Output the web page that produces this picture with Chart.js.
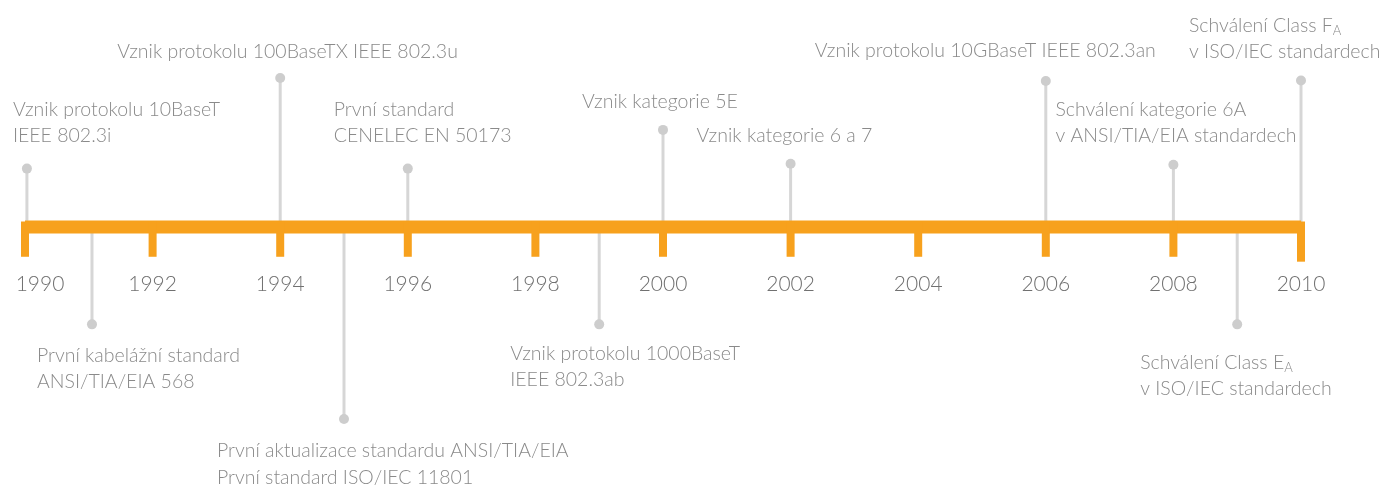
<!DOCTYPE html>
<html>
<head>
<meta charset="utf-8">
<script src="https://cdn.jsdelivr.net/npm/chart.js@4"></script>
<style>
  html, body { margin: 0; padding: 0; background: #fff; }
  #wrap { width: 1379px; height: 492px; }
</style>
</head>
<body>
<div id="wrap"><canvas id="timeline"></canvas></div>
<script>
// axis years (orange ticks + labels)
const axisYears = [1990, 1992, 1994, 1996, 1998, 2000, 2002, 2004, 2006, 2008, 2010];

// events: year, stem height (+ above the bar, - below)
const eventYears = [1990.03, 1994, 1996, 2000, 2002, 2006, 2008, 2010, 1991.05, 1995, 1999, 2009];
const eventHeights = [59.5, 152, 59.5, 99, 64.5, 149, 63.5, 149.5, -99.5, -196, -99.5, -99.5];
const eventLabels = [
  ['Vznik protokolu 10BaseT', 'IEEE 802.3i'],
  ['Vznik protokolu 100BaseTX IEEE 802.3u'],
  ['První standard', 'CENELEC EN 50173'],
  ['Vznik kategorie 5E'],
  ['Vznik kategorie 6 a 7'],
  ['Vznik protokolu 10GBaseT IEEE 802.3an'],
  ['Schválení kategorie 6A', 'v ANSI/TIA/EIA standardech'],
  ['Schválení Class F_A', 'v ISO/IEC standardech'],
  ['První kabelážní standard', 'ANSI/TIA/EIA 568'],
  ['První aktualizace standardu ANSI/TIA/EIA', 'První standard ISO/IEC 11801'],
  ['Vznik protokolu 1000BaseT', 'IEEE 802.3ab'],
  ['Schválení Class E_A', 'v ISO/IEC standardech']
];

// label placement relative to the dot (left edge, first line centre)
const labelDx = [-14, -163, -74, -81, -94, -231, -118, -112, -55, -127, -89, -97];
const labelDy = [-59, -26, -59, -28, -28, -30, -55, -55, 31, 32, 29, 38];

const ORANGE = '#f7a11d';
const STEM = '#d6d6d6';
const DOT = '#cdcdcd';
const FONT = '"Lato", "Open Sans", sans-serif';

const drawLine = (ctx, text, x, y) => {
  const parts = text.split('_');
  ctx.font = '300 19.5px ' + FONT;
  ctx.fillText(parts[0], x, y);
  if (parts[1]) {
    const w = ctx.measureText(parts[0]).width;
    ctx.font = '300 13px ' + FONT;
    ctx.fillText(parts[1], x + w, y + 5);
  }
};

const textPlugin = {
  id: 'timelineText',
  afterDatasetsDraw(chart) {
    const ctx = chart.ctx;
    const xs = chart.scales.x;
    const barY = chart.scales.y.getPixelForValue(0);
    ctx.save();
    ctx.textBaseline = 'middle';

    // year labels
    ctx.font = '300 21px ' + FONT;
    ctx.fillStyle = '#707070';
    ctx.textAlign = 'center';
    axisYears.forEach((yr, i) => {
      const x = xs.getPixelForValue(yr) + (i === 0 ? 15 : 0);
      ctx.fillText(String(yr), x, barY + 57);
    });

    // event labels
    ctx.fillStyle = '#8a8a8a';
    ctx.textAlign = 'left';
    const pts = chart.getDatasetMeta(3).data;
    eventLabels.forEach((lines, i) => {
      const p = pts[i];
      lines.forEach((line, j) => {
        drawLine(ctx, line, p.x + labelDx[i], p.y + labelDy[i] + j * 26.5);
      });
    });
    ctx.restore();
  }
};

const barHalf = 6.5;

new Chart(document.getElementById('timeline'), {
  data: {
    datasets: [
      {
        type: 'line',
        data: [{ x: axisYears[0], y: 0 }, { x: axisYears[axisYears.length - 1], y: 0 }],
        borderColor: ORANGE,
        borderWidth: barHalf * 2,
        borderCapStyle: 'butt',
        pointRadius: 0,
        clip: false,
        order: 2
      },
      {
        type: 'bar',
        data: axisYears.map((yr, i) => ({ x: yr, y: [barHalf - 1, i === axisYears.length - 1 ? -35.5 : -30.5] })),
        backgroundColor: ORANGE,
        barThickness: 8,
        inflateAmount: 0,
        grouped: false,
        clip: false,
        order: 1
      },
      {
        type: 'bar',
        data: eventYears.map((yr, i) => ({ x: yr, y: [0, eventHeights[i]] })),
        backgroundColor: STEM,
        barThickness: 3,
        inflateAmount: 0,
        grouped: false,
        clip: false,
        order: 4
      },
      {
        type: 'scatter',
        data: eventYears.map((yr, i) => ({ x: yr, y: eventHeights[i] })),
        backgroundColor: DOT,
        borderWidth: 0,
        pointRadius: 5,
        clip: false,
        order: 3
      }
    ]
  },
  options: {
    responsive: true,
    maintainAspectRatio: false,
    animation: false,
    layout: { padding: { left: 25, right: 78, top: 0, bottom: 0 } },
    plugins: { legend: { display: false }, tooltip: { enabled: false } },
    scales: {
      x: { type: 'linear', min: 1990, max: 2010, offset: false, display: false },
      y: { type: 'linear', min: -265.5, max: 226.5, display: false }
    }
  },
  plugins: [textPlugin]
});
</script>
</body>
</html>
